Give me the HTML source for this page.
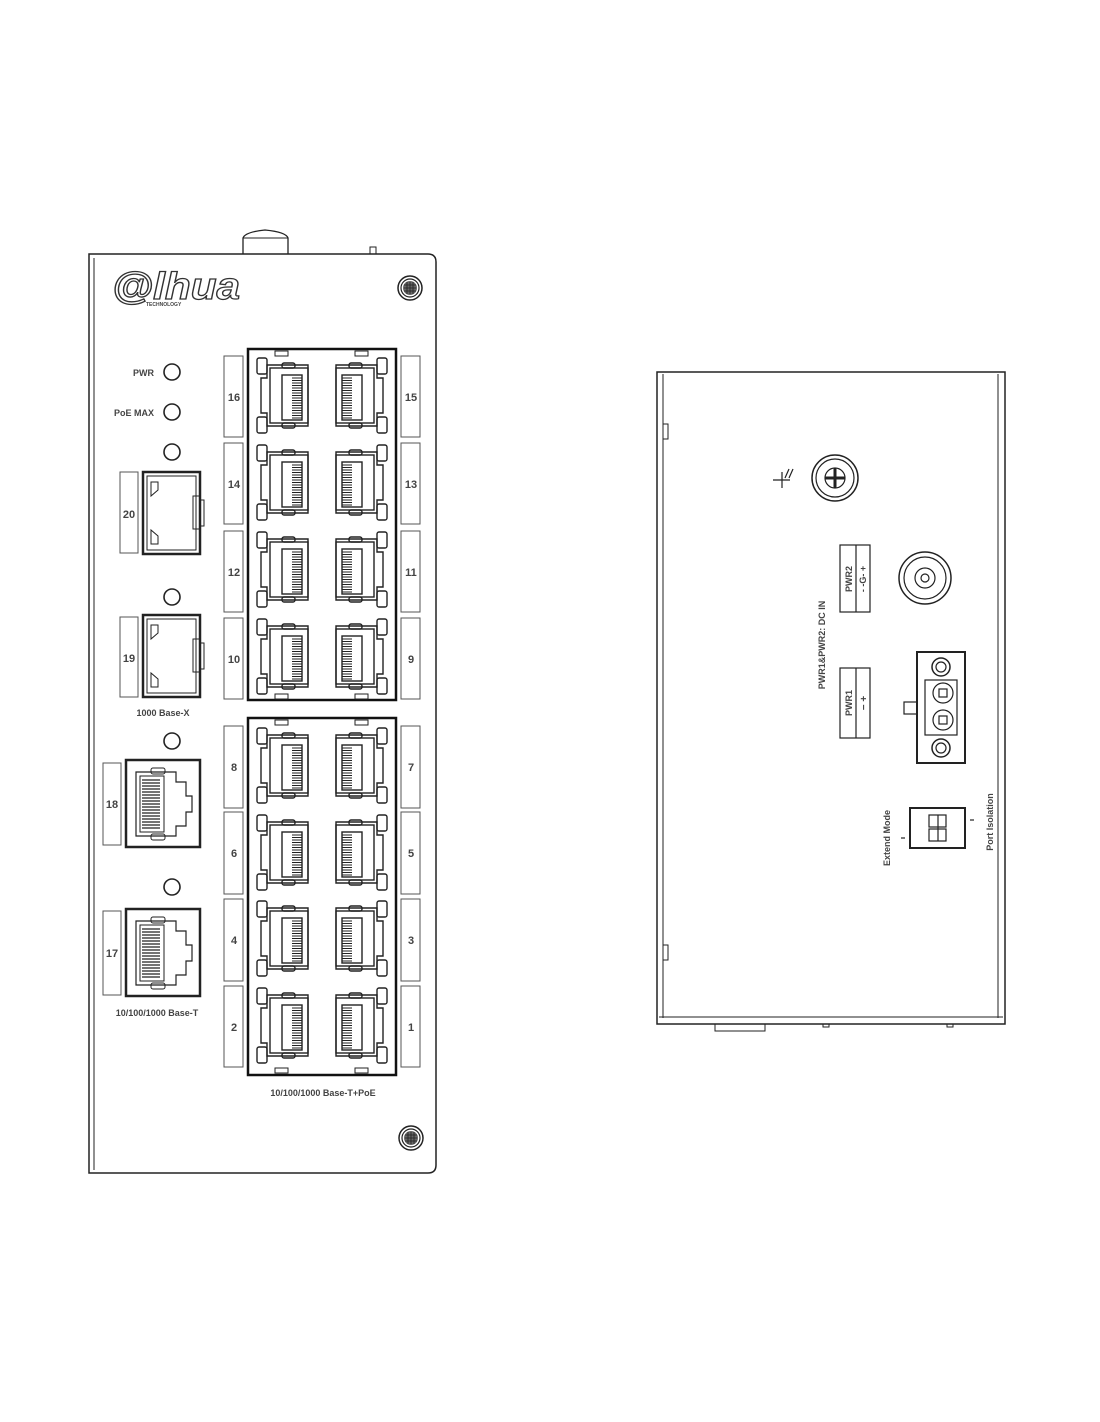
<!DOCTYPE html>
<html><head><meta charset="utf-8"><style>
html,body{margin:0;padding:0;background:#fff}
svg{display:block}
text{font-family:"Liberation Sans",sans-serif;font-weight:bold;fill:#444}
</style></head><body>
<svg width="1100" height="1422" viewBox="0 0 1100 1422" xmlns="http://www.w3.org/2000/svg">
<defs>
<g id="port" fill="none" stroke="#222" stroke-width="1.4">
 <rect x="4" y="0" width="10" height="16" rx="2" fill="#fff"/>
 <rect x="4" y="59" width="10" height="16" rx="2" fill="#fff"/>
 <path d="M14 7 H55 V68 H14 V55 H8 V20 H14 Z"/>
 <rect x="17" y="10" width="38" height="55"/>
 <rect x="29" y="5" width="13" height="5" rx="2"/>
 <rect x="29" y="65" width="13" height="5" rx="2"/>
 <rect x="29" y="17" width="20" height="45"/>
 <g stroke-width="1">
  <path d="M39 20H49M39 22.5H49M39 25H49M39 27.5H49M39 30H49M39 32.5H49M39 35H49M39 37.5H49M39 40H49M39 42.5H49M39 45H49M39 47.5H49M39 50H49M39 52.5H49M39 55H49M39 57.5H49M39 60H49"/>
 </g>
</g>
<g id="sfp" fill="none" stroke="#222">
 <rect x="0" y="0" width="57" height="82" stroke-width="2.5"/>
 <rect x="4" y="4" width="49" height="74" stroke-width="1"/>
 <path d="M8 10 h7 v8 l-7 6 z M8 72 h7 v-8 l-7 -6 z" stroke-width="1"/>
 <rect x="50" y="24" width="7" height="33" stroke-width="1"/>
 <path d="M57 28 h4 v26 h-4" stroke-width="1"/>
</g>
<g id="rj" fill="none" stroke="#222">
 <rect x="0" y="0" width="74" height="87" stroke-width="2.5"/>
 <path d="M10 12 H50 V22 H60 V36 H66 V52 H60 V66 H50 V76 H10 Z" stroke-width="1.2"/>
 <rect x="14" y="16" width="24" height="56" stroke-width="1"/>
 <path d="M16 20H34M16 23H34M16 26H34M16 29H34M16 32H34M16 35H34M16 38H34M16 41H34M16 44H34M16 47H34M16 50H34M16 53H34M16 56H34M16 59H34M16 62H34M16 65H34M16 68H34" stroke-width="1.3"/>
 <rect x="25" y="8" width="14" height="6" rx="2" stroke-width="1"/>
 <rect x="25" y="74" width="14" height="6" rx="2" stroke-width="1"/>
</g>
<g id="screw" fill="none" stroke="#222">
 <circle r="12" stroke-width="1.5"/><circle r="9" stroke-width="1.2"/>
 <circle r="7" fill="#666" stroke="none"/>
 <path d="M-6 -3H6M-6 0H6M-6 3H6M-3 -6V6M0 -6V6M3 -6V6" stroke="#222" stroke-width="0.8"/>
</g>
</defs>

<!-- LEFT PANEL -->
<g fill="none" stroke="#222" stroke-width="1.5">
 <path d="M89 1173 V254 H428 Q436 254 436 262 V1165 Q436 1173 428 1173 Z"/>
 <line x1="94" y1="258" x2="94" y2="1170" stroke-width="1"/>
 <path d="M243 254 V238 Q245 232 265 230 Q286 232 288 238 V254" stroke-width="1.3"/>
 <line x1="243" y1="238" x2="288" y2="238" stroke-width="1"/>
 <rect x="370" y="247" width="6" height="7" stroke-width="1"/>
</g>
<text x="112" y="299" font-size="38" font-style="italic" textLength="128" lengthAdjust="spacingAndGlyphs" stroke="#333" stroke-width="1.3" style="fill:none">@lhua</text>
<text x="146" y="306" font-size="5" fill="#333">TECHNOLOGY</text>
<use href="#screw" x="410" y="288"/>
<use href="#screw" x="411" y="1138"/>

<!-- LEDs -->
<g fill="none" stroke="#222" stroke-width="1.6">
 <circle cx="172" cy="372" r="8"/><circle cx="172" cy="412" r="8"/>
 <circle cx="172" cy="452" r="8"/><circle cx="172" cy="597" r="8"/>
 <circle cx="172" cy="741" r="8"/><circle cx="172" cy="887" r="8"/>
</g>
<text x="154" y="376" font-size="9" text-anchor="end">PWR</text>
<text x="154" y="416" font-size="9" text-anchor="end">PoE MAX</text>

<!-- SFP -->
<use href="#sfp" x="143" y="472"/>
<use href="#sfp" x="143" y="615"/>
<g fill="none" stroke="#555" stroke-width="1">
 <rect x="120" y="472" width="18" height="81"/>
 <rect x="120" y="617" width="18" height="80"/>
 <rect x="103" y="763" width="18" height="82"/>
 <rect x="103" y="911" width="18" height="84"/>
</g>
<text x="129" y="518" font-size="11" text-anchor="middle">20</text>
<text x="129" y="662" font-size="11" text-anchor="middle">19</text>
<text x="163" y="716" font-size="9" text-anchor="middle">1000 Base-X</text>
<use href="#rj" x="126" y="760"/>
<use href="#rj" x="126" y="909"/>
<text x="112" y="808" font-size="11" text-anchor="middle">18</text>
<text x="112" y="957" font-size="11" text-anchor="middle">17</text>
<text x="157" y="1016" font-size="9" text-anchor="middle">10/100/1000 Base-T</text>

<!-- Port blocks -->
<g fill="none" stroke="#111" stroke-width="2.5">
 <rect x="248" y="349" width="148" height="351"/>
 <rect x="248" y="718" width="148" height="357"/>
</g>
<g fill="none" stroke="#222" stroke-width="1">
 <rect x="275" y="351" width="13" height="5"/><rect x="355" y="351" width="13" height="5"/>
 <rect x="275" y="694" width="13" height="5"/><rect x="355" y="694" width="13" height="5"/>
 <rect x="275" y="720" width="13" height="5"/><rect x="355" y="720" width="13" height="5"/>
 <rect x="275" y="1068" width="13" height="5"/><rect x="355" y="1068" width="13" height="5"/>
</g>
<g>
 <use href="#port" x="253" y="358"/><use href="#port" transform="translate(391 358) scale(-1 1)"/>
 <use href="#port" x="253" y="445"/><use href="#port" transform="translate(391 445) scale(-1 1)"/>
 <use href="#port" x="253" y="532"/><use href="#port" transform="translate(391 532) scale(-1 1)"/>
 <use href="#port" x="253" y="619"/><use href="#port" transform="translate(391 619) scale(-1 1)"/>
 <use href="#port" x="253" y="728"/><use href="#port" transform="translate(391 728) scale(-1 1)"/>
 <use href="#port" x="253" y="815"/><use href="#port" transform="translate(391 815) scale(-1 1)"/>
 <use href="#port" x="253" y="901"/><use href="#port" transform="translate(391 901) scale(-1 1)"/>
 <use href="#port" x="253" y="988"/><use href="#port" transform="translate(391 988) scale(-1 1)"/>
</g>
<g fill="none" stroke="#555" stroke-width="1">
 <rect x="224" y="356" width="19" height="81"/><rect x="401" y="356" width="19" height="81"/>
 <rect x="224" y="443" width="19" height="81"/><rect x="401" y="443" width="19" height="81"/>
 <rect x="224" y="531" width="19" height="81"/><rect x="401" y="531" width="19" height="81"/>
 <rect x="224" y="618" width="19" height="81"/><rect x="401" y="618" width="19" height="81"/>
 <rect x="224" y="726" width="19" height="82"/><rect x="401" y="726" width="19" height="82"/>
 <rect x="224" y="812" width="19" height="82"/><rect x="401" y="812" width="19" height="82"/>
 <rect x="224" y="899" width="19" height="82"/><rect x="401" y="899" width="19" height="82"/>
 <rect x="224" y="986" width="19" height="81"/><rect x="401" y="986" width="19" height="81"/>
</g>
<g font-size="11" text-anchor="middle">
 <text x="234" y="401">16</text><text x="411" y="401">15</text>
 <text x="234" y="488">14</text><text x="411" y="488">13</text>
 <text x="234" y="576">12</text><text x="411" y="576">11</text>
 <text x="234" y="663">10</text><text x="411" y="663">9</text>
 <text x="234" y="771">8</text><text x="411" y="771">7</text>
 <text x="234" y="857">6</text><text x="411" y="857">5</text>
 <text x="234" y="944">4</text><text x="411" y="944">3</text>
 <text x="234" y="1031">2</text><text x="411" y="1031">1</text>
</g>
<text x="323" y="1096" font-size="9" text-anchor="middle">10/100/1000 Base-T+PoE</text>

<!-- RIGHT PANEL -->
<g fill="none" stroke="#222" stroke-width="1.5">
 <rect x="657" y="372" width="348" height="652"/>
 <line x1="663" y1="374" x2="663" y2="1018" stroke-width="1"/>
 <line x1="998" y1="374" x2="998" y2="1018" stroke-width="1"/>
 <line x1="659" y1="1017" x2="1003" y2="1017" stroke-width="1"/>
 <rect x="663" y="424" width="5" height="15" stroke-width="1"/>
 <rect x="663" y="945" width="5" height="15" stroke-width="1"/>
 <rect x="715" y="1024" width="50" height="7" stroke-width="1"/>
 <rect x="823" y="1024" width="6" height="3" stroke-width="1"/>
 <rect x="947" y="1024" width="6" height="3" stroke-width="1"/>
</g>
<g fill="none" stroke="#222" stroke-width="1.2">
 <path d="M773 480 H790 M782 472 V488 M789 469 L785 478 M793 469 L789 478"/>
 <circle cx="835" cy="478" r="23" stroke-width="1.5"/><circle cx="835" cy="478" r="19"/>
 <circle cx="835" cy="478" r="10"/>
 <path d="M835 468 V488 M825 478 H845" stroke-width="3"/>
 <circle cx="925" cy="578" r="26" stroke-width="1.5"/><circle cx="925" cy="578" r="21"/>
 <circle cx="925" cy="578" r="10"/><circle cx="925" cy="578" r="4"/>
 <rect x="840" y="545" width="30" height="67"/>
 <line x1="856" y1="545" x2="856" y2="612"/>
 <rect x="840" y="668" width="30" height="70"/>
 <line x1="856" y1="668" x2="856" y2="738"/>
 <rect x="917" y="652" width="48" height="111" stroke-width="2"/>
 <circle cx="941" cy="667" r="9" stroke-width="1.5"/><circle cx="941" cy="667" r="5"/>
 <circle cx="941" cy="748" r="9" stroke-width="1.5"/><circle cx="941" cy="748" r="5"/>
 <rect x="925" y="680" width="32" height="55"/>
 <circle cx="943" cy="693" r="10"/><circle cx="943" cy="720" r="10"/>
 <rect x="939" y="689" width="8" height="8"/><rect x="939" y="716" width="8" height="8"/>
 <rect x="904" y="702" width="13" height="12"/>
 <rect x="910" y="808" width="55" height="40" stroke-width="2"/>
 <rect x="929" y="815" width="17" height="12"/><rect x="929" y="829" width="17" height="12"/>
 <line x1="938" y1="815" x2="938" y2="841"/>
 <line x1="901" y1="838" x2="905" y2="838"/><line x1="970" y1="820" x2="974" y2="820"/>
</g>
<text transform="translate(852 579) rotate(-90)" font-size="9" text-anchor="middle">PWR2</text>
<text transform="translate(866 579) rotate(-90)" font-size="9" text-anchor="middle">- -G- +</text>
<text transform="translate(852 703) rotate(-90)" font-size="9" text-anchor="middle">PWR1</text>
<text transform="translate(867 703) rotate(-90)" font-size="10" text-anchor="middle">−     +</text>
<text transform="translate(825 645) rotate(-90)" font-size="9" text-anchor="middle">PWR1&amp;PWR2: DC IN</text>
<text transform="translate(890 838) rotate(-90)" font-size="9" text-anchor="middle">Extend  Mode</text>
<text transform="translate(993 822) rotate(-90)" font-size="9" text-anchor="middle">Port  Isolation</text>
</svg>
</body></html>
